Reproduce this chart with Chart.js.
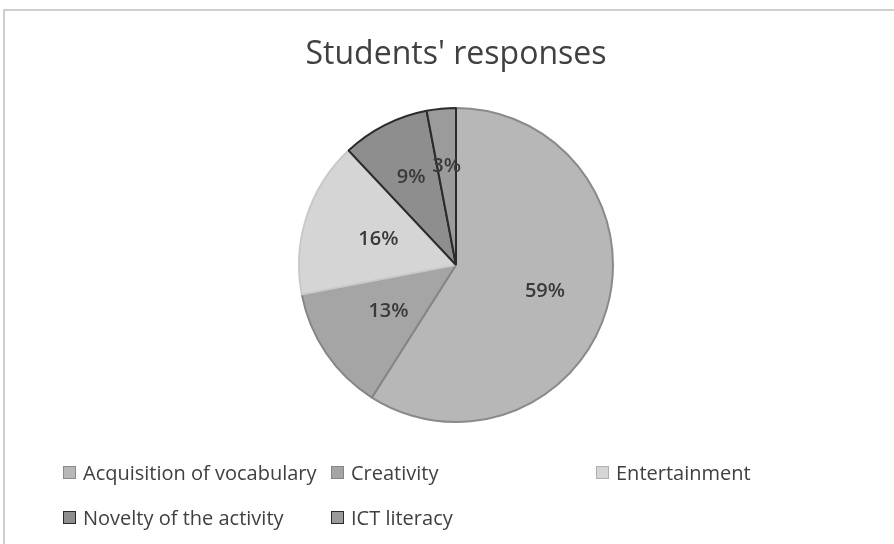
<!DOCTYPE html>
<html>
<head>
<meta charset="utf-8">
<script src="https://cdn.jsdelivr.net/npm/chart.js@4.4.1/dist/chart.umd.min.js"></script>
<style>
    html, body { margin: 0; padding: 0; background: #fff; }
    #wrap { position: relative; width: 894px; height: 544px; overflow: hidden; }
    #frame { position: absolute; left: 3px; top: 9px; width: 900px; height: 600px;
             border-top: 2px solid #cfcfcf; border-left: 2px solid #cfcfcf; }
    #chart { position: absolute; left: 0; top: 0; }
    #legend { position: absolute; left: 63px; top: 458px; display: grid;
              grid-template-columns: 268px 265px auto; row-gap: 17px;
              font-family: "Open Sans", sans-serif; font-size: 20px; color: #404040; }
    #legend .item { display: flex; align-items: center; height: 28px; white-space: nowrap; }
    #legend .box { width: 13px; height: 13px; margin-right: 7px; box-sizing: border-box; border: 1px solid; }
</style>
</head>
<body>
<div id="wrap">
    <div id="frame"></div>
    <canvas id="chart" width="894" height="544"></canvas>
    <div id="legend"></div>
</div>
<script>
const categories = ['Acquisition of vocabulary', 'Creativity', 'Entertainment', 'Novelty of the activity', 'ICT literacy'];
const shares = [59, 13, 16, 9, 3];
const fills = ['#b7b7b7', '#a5a5a5', '#d5d5d5', '#8e8e8e', '#9b9b9b'];
const edges = ['#8a8a8a', '#858585', '#c9c9c9', '#2b2b2b', '#2b2b2b'];

// percent labels inside the slices (roughly excel's "best fit")
const sliceLabels = {
    id: 'sliceLabels',
    afterDatasetsDraw(chart) {
        const ctx = chart.ctx;
        const meta = chart.getDatasetMeta(0);
        ctx.save();
        ctx.font = '600 20px "Open Sans", sans-serif';
        ctx.fillStyle = '#3a3a3a';
        ctx.textAlign = 'center';
        ctx.textBaseline = 'middle';
        meta.data.forEach((arc, i) => {
            const p = arc.getProps(['x', 'y', 'startAngle', 'endAngle', 'outerRadius'], true);
            const mid = (p.startAngle + p.endAngle) / 2;
            const k = shares[i] > 50 ? 0.59 : shares[i] > 10 ? 0.52 : 0.63;
            const r = p.outerRadius * k;
            ctx.fillText(shares[i] + '%', p.x + Math.cos(mid) * r, p.y + Math.sin(mid) * r);
        });
        ctx.restore();
    }
};

new Chart(document.getElementById('chart'), {
    type: 'pie',
    data: {
        labels: categories,
        datasets: [{
            data: shares,
            backgroundColor: fills,
            borderColor: edges,
            borderWidth: 2
        }]
    },
    options: {
        responsive: false,
        animation: false,
        events: [],
        layout: { padding: { left: 18, right: 0, top: 0, bottom: 121 } },
        plugins: {
            legend: { display: false },
            tooltip: { enabled: false },
            title: {
                display: true,
                text: "Students' responses",
                color: '#404040',
                font: { family: '"Open Sans", sans-serif', size: 32, weight: 'normal', lineHeight: 1.2 },
                padding: { top: 36, bottom: 32.6 }
            }
        }
    },
    plugins: [sliceLabels]
});

const legend = document.getElementById('legend');
categories.forEach((name, i) => {
    const item = document.createElement('div');
    item.className = 'item';
    item.innerHTML = `<span class="box" style="background:${fills[i]};border-color:${edges[i] === '#c9c9c9' ? '#b0b0b0' : edges[i]}"></span>${name}`;
    legend.appendChild(item);
});
</script>
</body>
</html>
